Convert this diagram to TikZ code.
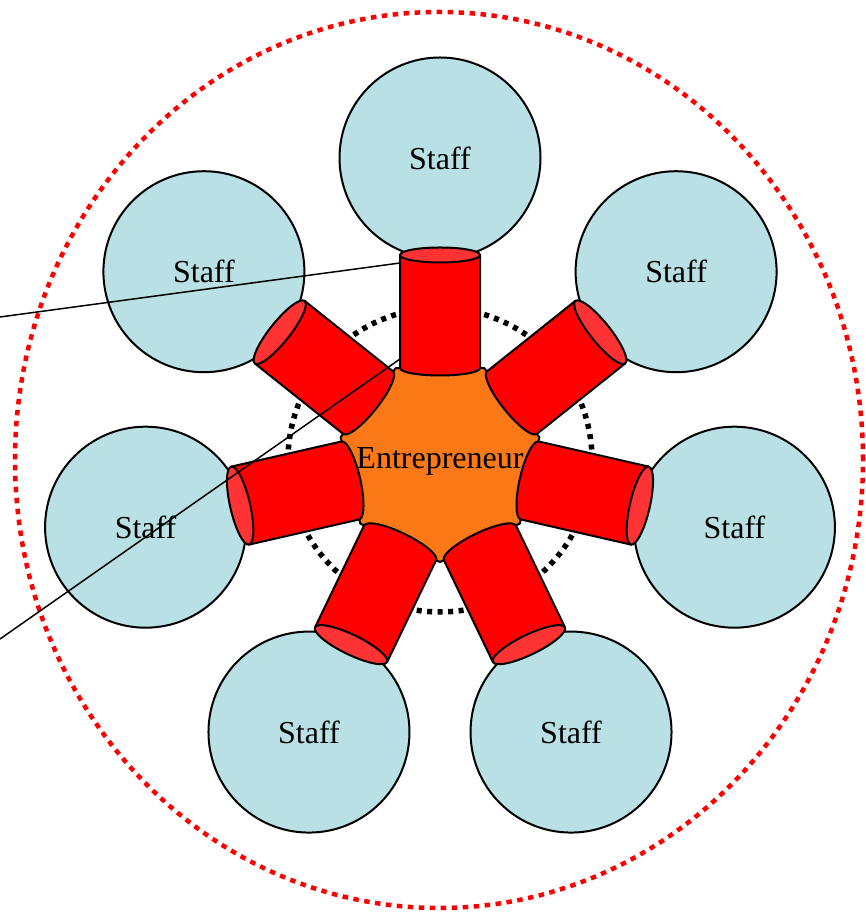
\documentclass[tikz,border=0pt]{standalone}
\usepackage{fontspec}
\setmainfont{Liberation Serif}
\usetikzlibrary{calc}
\definecolor{staffblue}{RGB}{185,224,228}
\definecolor{entorange}{RGB}{250,120,22}
\definecolor{cylred}{RGB}{255,0,0}
\definecolor{cyltop}{RGB}{255,51,51}
\begin{document}
\begin{tikzpicture}[x=1pt,y=1pt,
  staff/.style={circle, draw, line width=2pt, fill=staffblue, minimum size=201pt, inner sep=0pt, font=\fontsize{32}{36}\selectfont},
  entshape/.style={draw, line width=2pt, fill=entorange, line join=round},
  enttext/.style={inner sep=0pt, font=\fontsize{32}{36}\selectfont},
  cylbody/.style={draw, line width=2pt, fill=cylred, line join=round},
  cylend/.style={draw, line width=2pt, fill=cyltop},
  outerring/.style={draw=red, line width=4.5pt, dash pattern=on 5.5pt off 5.5pt},
  innerring/.style={draw=black, line width=5.5pt, dash pattern=on 5pt off 5.5pt},
  link/.style={draw, line width=1.5pt}]
\useasboundingbox (0,0) rectangle (866,912);
\coordinate (C) at (440,452);
\draw[outerring] (439,452) ellipse [x radius=424, y radius=448];
\draw[innerring] (C) circle [radius=152];
\foreach \k in {0,...,6} {
  \node[staff] (s\k) at ($(C)+({90+\k*360/7}:302)$) {Staff};
}
\begin{scope}[shift={(C)}]
  \draw[entshape] (64.286:102) -- (115.714:102) -- (167.143:102) -- (218.571:102)
    -- (270:102) -- (321.429:102) -- (12.857:102) -- cycle;
\end{scope}
\node[enttext] (ent) at ($(C)+(0,-1)$) {Entrepreneur};
\foreach \k in {0,...,6} {
  \pgfmathsetmacro\ang{\k*360/7}
  \pgfmathsetmacro\ee{ifthenelse(\k==0,7.5,10)}
  \begin{scope}[shift={(C)}, rotate=\ang]
    \draw[cylbody] (-40,205) -- (-40,92) arc[start angle=180, end angle=360, x radius=40, y radius=\ee] -- (40,205) -- cycle;
    \draw[cylend] (0,205) ellipse [x radius=40, y radius=\ee];
  \end{scope}
}
\coordinate (hookA) at ($(C)+(-40,197)$);
\coordinate (hookB) at ($(C)+(-40,101)$);
\coordinate (free1) at (0,595);
\coordinate (free2) at (0,273);
\draw[link] (free1) -- (hookA);
\draw[link] (free2) -- (hookB);
\end{tikzpicture}
\end{document}
